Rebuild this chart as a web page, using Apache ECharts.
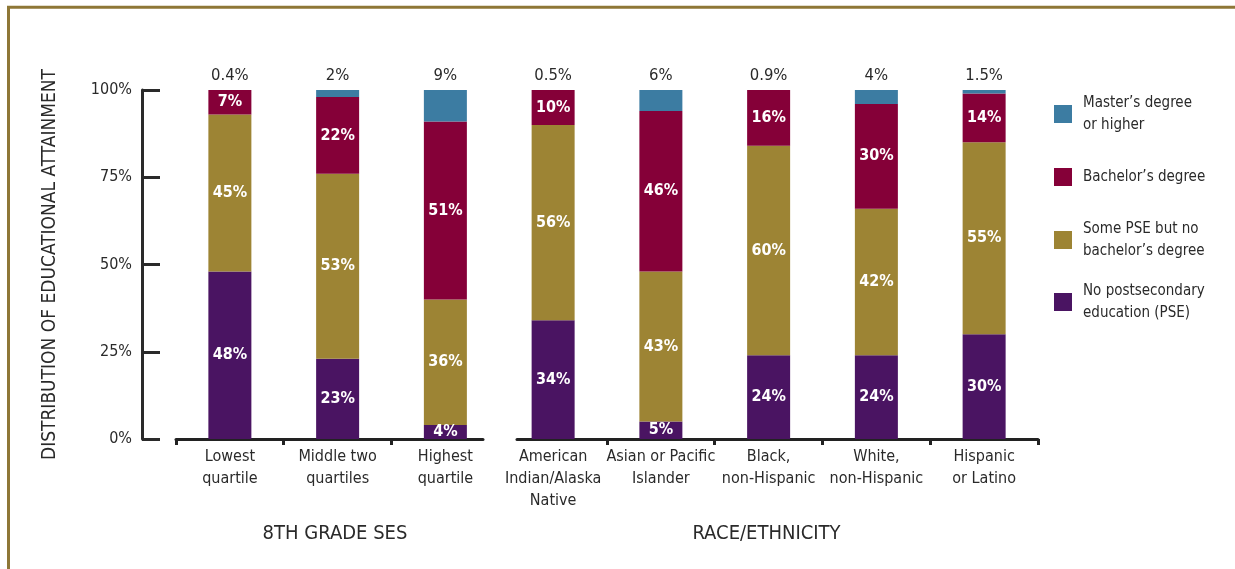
<!DOCTYPE html>
<html>
<head>
<meta charset="utf-8">
<script src="https://cdn.jsdelivr.net/npm/echarts@6/dist/echarts.min.js"></script>
<style>
html,body{margin:0;padding:0;background:#fff;}
#chart{width:1235px;height:569px;}
</style>
</head>
<body>
<div id="chart"></div>
<script>
// ---- data ----
const categories = ['Lowest\nquartile', 'Middle two\nquartiles', 'Highest\nquartile',
  'American\nIndian/Alaska\nNative', 'Asian or Pacific\nIslander', 'Black,\nnon-Hispanic',
  'White,\nnon-Hispanic', 'Hispanic\nor Latino'];
const groupSizes = [3, 5];
const groupNames = ['8TH GRADE SES', 'RACE/ETHNICITY'];
const seriesNames = ['No postsecondary\neducation (PSE)', 'Some PSE but no\nbachelor’s degree', 'Bachelor’s degree', 'Master’s degree\nor higher'];
const noPSE    = [48, 23, 4, 34, 5, 24, 24, 30];
const somePSE  = [45, 53, 36, 56, 43, 60, 42, 55];
const bachelor = [7, 22, 51, 10, 46, 16, 30, 14];
const master   = [0.4, 2, 9, 0.5, 6, 0.9, 4, 1.5];
const yTicks = [0, 25, 50, 75, 100];
const yAxisTitle = 'DISTRIBUTION OF EDUCATIONAL ATTAINMENT';

// ---- style ----
const colors = ['#4a1462', '#9d8434', '#850038', '#3c7ca2'];
const FONT = "'Liberation Sans Narrow', 'DejaVu Sans Condensed', 'Liberation Sans', sans-serif";
const TXT = '#2a2a2a';
const allValues = [noPSE, somePSE, bachelor, master];

const chart = echarts.init(document.getElementById('chart'));

// grid 0 holds the bars; grids 1 and 2 draw the two broken baseline segments
const grids = [
  {left: 176, top: 90, width: 862, height: 349},
  {left: 176, top: 90, width: 307, height: 349},
  {left: 517, top: 90, width: 521, height: 349}
];
const xRanges = [[-0.5, 2.35], [2.665, 7.5]];
const namePads = [[0, 0, 0, 11], [0, 22, 0, 0]];

const xAxes = [
  {
    type: 'category', gridIndex: 0, data: categories, position: 'bottom',
    axisLine: {show: false}, axisTick: {show: false},
    axisLabel: {interval: 0, margin: 7, color: TXT, fontFamily: FONT, fontSize: 16, lineHeight: 22}
  },
  {
    type: 'category', gridIndex: 0, data: master.map(v => v + '%'), position: 'top',
    axisLine: {show: false}, axisTick: {show: false},
    axisLabel: {interval: 0, margin: 6, color: TXT, fontFamily: FONT, fontSize: 16.5}
  }
];
const yAxes = [{
  type: 'value', gridIndex: 0, min: 0, max: 100, interval: 25, offset: 34,
  splitLine: {show: false},
  axisLine: {show: true, lineStyle: {color: '#2a2a2a', width: 3}},
  axisTick: {show: true, inside: true, length: 18, lineStyle: {color: '#2a2a2a', width: 3}},
  axisLabel: {margin: 10, color: TXT, fontFamily: FONT, fontSize: 16, formatter: v => yTicks.includes(v) ? v + '%' : ''},
  name: yAxisTitle, nameLocation: 'middle', nameGap: 82, nameRotate: 90,
  nameTextStyle: {fontFamily: FONT, fontSize: 19, color: TXT}
}];

let start = 0;
for (let g = 0; g < 2; g++) {
  const n = groupSizes[g];
  const ticks = [];
  if (g === 0) ticks.push(start - 0.5);
  for (let i = 0; i < n; i++) {
    if (g === 1 || i < n - 1) ticks.push(start + i + 0.5);
  }
  xAxes.push({
    type: 'value', gridIndex: g + 1, position: 'bottom',
    min: xRanges[g][0], max: xRanges[g][1],
    splitLine: {show: false},
    axisLine: {show: true, onZero: false, lineStyle: {color: '#222', width: 3}},
    axisTick: {show: true, length: 6, customValues: ticks, lineStyle: {color: '#222', width: 3}},
    axisLabel: {show: false},
    name: groupNames[g], nameLocation: 'middle', nameGap: 85,
    nameTextStyle: {fontFamily: FONT, fontSize: 20, color: TXT, padding: namePads[g]}
  });
  yAxes.push({type: 'value', gridIndex: g + 1, min: 0, max: 100, show: false});
  start += n;
}

const series = allValues.map((vals, s) => ({
  type: 'bar', name: seriesNames[s], stack: 'total',
  xAxisIndex: 0, yAxisIndex: 0, barWidth: 43,
  itemStyle: {color: colors[s]},
  label: {
    show: s < 3, position: 'inside', color: '#fff', fontFamily: FONT,
    fontWeight: 'bold', fontSize: 16,
    formatter: p => p.value + '%'
  },
  data: vals
}));

const legendTops = [87, 161, 213, 275];
const legends = [3, 2, 1, 0].map((s, k) => ({
  data: [seriesNames[s]], orient: 'vertical', left: 1049, top: legendTops[k],
  icon: 'rect', itemWidth: 18, itemHeight: 18, selectedMode: false,
  textStyle: {fontFamily: FONT, fontSize: 15, lineHeight: 22, color: TXT, padding: [0, 0, 0, 6]}
}));

chart.setOption({
  animation: false,
  color: colors,
  grid: grids,
  xAxis: xAxes,
  yAxis: yAxes,
  legend: legends,
  series: series,
  graphic: [{
    type: 'rect', silent: true,
    shape: {x: 8.5, y: 7.2, width: 1400, height: 800},
    style: {fill: 'none', stroke: '#8e7737', lineWidth: 3}
  }]
});
</script>
</body>
</html>
